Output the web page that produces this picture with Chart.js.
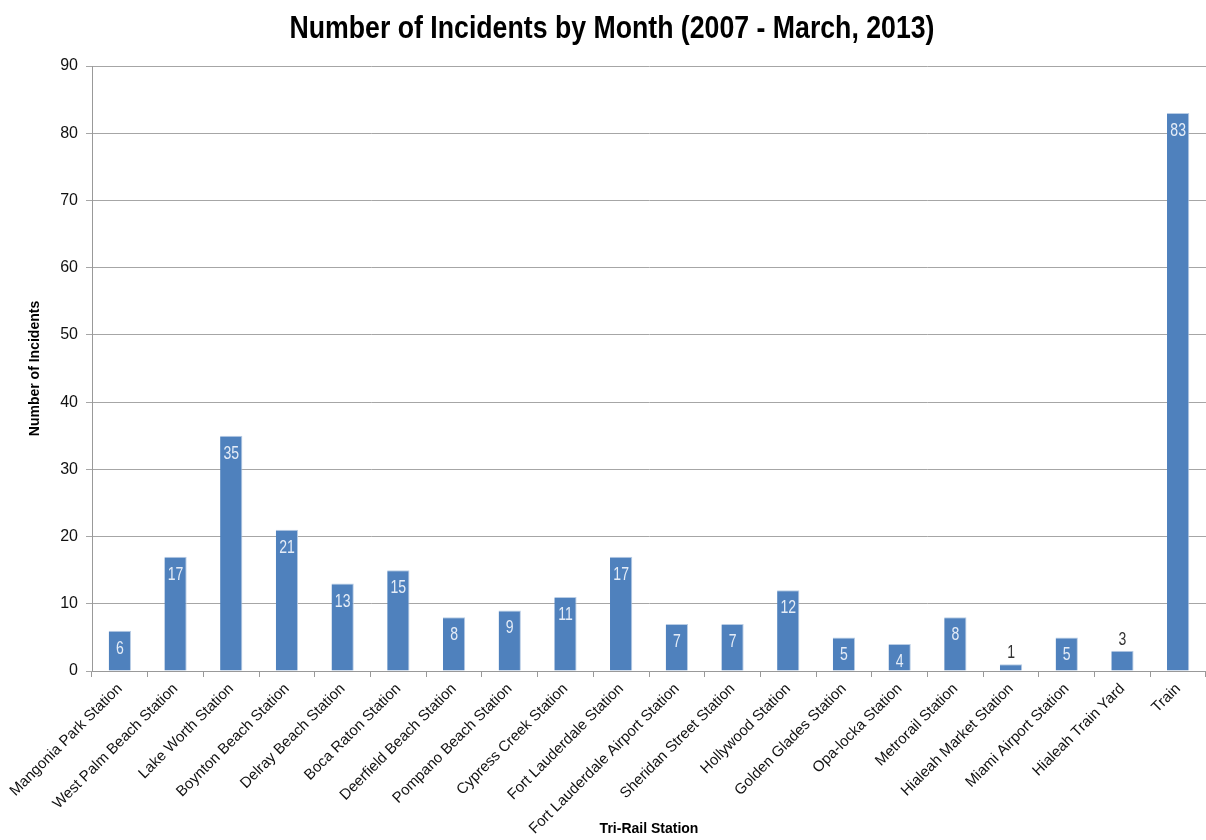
<!DOCTYPE html>
<html>
<head>
<meta charset="utf-8">
<script src="https://cdn.jsdelivr.net/npm/chart.js@4.4.0/dist/chart.umd.min.js"></script>
<style>
  html, body { margin: 0; padding: 0; background: #fff; }
  #wrap { width: 1206px; height: 840px; }
</style>
</head>
<body>
<div id="wrap"><canvas id="chart"></canvas></div>
<script>
const stations = [
    'Mangonia Park Station', 'West Palm Beach Station', 'Lake Worth Station',
    'Boynton Beach Station', 'Delray Beach Station', 'Boca Raton Station',
    'Deerfield Beach Station', 'Pompano Beach Station', 'Cypress Creek Station',
    'Fort Lauderdale Station', 'Fort Lauderdale Airport Station', 'Sheridan Street Station',
    'Hollywood Station', 'Golden Glades Station', 'Opa-locka Station',
    'Metrorail Station', 'Hialeah Market Station', 'Miami Airport Station',
    'Hialeah Train Yard', 'Train'
];
const incidents = [6, 17, 35, 21, 13, 15, 8, 9, 11, 17, 7, 7, 12, 5, 4, 8, 1, 5, 3, 83];
const yTicks = [0, 10, 20, 30, 40, 50, 60, 70, 80, 90];
const chartTitle = 'Number of Incidents by Month (2007 - March, 2013)';

const sans = "'Liberation Sans', Arial, sans-serif";

// no narrow face installed, so squeeze Liberation Sans horizontally
function narrowText(ctx, text, x, y, sx) {
    ctx.save();
    ctx.translate(x, y);
    ctx.scale(sx, 1);
    ctx.fillText(text, 0, 0);
    ctx.restore();
}

// chart title drawn by hand so it can be condensed
const narrowTitle = {
    id: 'narrowTitle',
    afterDraw(chart) {
        const ctx = chart.ctx;
        ctx.save();
        ctx.font = 'bold 32px ' + sans;
        ctx.fillStyle = '#000';
        ctx.textAlign = 'center';
        ctx.textBaseline = 'middle';
        const w = ctx.measureText(chartTitle).width;
        narrowText(ctx, chartTitle, 612, 29, 645 / w);
        ctx.restore();
    }
};

// value labels: inside the bar top, or above it when the bar is too short
const barLabels = {
    id: 'barLabels',
    afterDatasetsDraw(chart) {
        const ctx = chart.ctx;
        const meta = chart.getDatasetMeta(0);
        ctx.save();
        ctx.font = '18px ' + sans;
        ctx.textAlign = 'center';
        ctx.textBaseline = 'middle';
        meta.data.forEach((bar, i) => {
            const h = bar.base - bar.y;
            if (h > 26) {
                ctx.fillStyle = '#e4ecf7';
                narrowText(ctx, String(incidents[i]), bar.x, bar.y + 18, 0.78);
            } else {
                ctx.fillStyle = '#333';
                narrowText(ctx, String(incidents[i]), bar.x, bar.y - 11, 0.78);
            }
        });
        ctx.restore();
    }
};

const ctx = document.getElementById('chart').getContext('2d');
const chart = new Chart(ctx, {
    type: 'bar',
    data: {
        labels: stations,
        datasets: [{
            data: incidents,
            backgroundColor: '#4f81bd',
            borderColor: '#b9cde5',
            borderWidth: { top: 1, left: 0, right: 1, bottom: 0 },
            barPercentage: 0.4,
            categoryPercentage: 1
        }]
    },
    options: {
        responsive: true,
        maintainAspectRatio: false,
        animation: false,
        layout: { padding: { top: 66, left: 0, right: 0, bottom: 0 } },
        plugins: {
            legend: { display: false },
            tooltip: { enabled: false },
            title: { display: false }
        },
        scales: {
            x: {
                grid: {
                    offset: true,
                    drawOnChartArea: false,
                    tickLength: 6,
                    color: '#999'
                },
                border: { color: '#999' },
                ticks: {
                    color: '#111',
                    font: { family: sans, size: 15 },
                    minRotation: 45,
                    maxRotation: 45,
                    autoSkip: false,
                    padding: 3
                },
                title: {
                    display: true,
                    text: 'Tri-Rail Station',
                    color: '#000',
                    font: { family: sans, size: 14, weight: 'bold' },
                    padding: { top: 0, bottom: 2 }
                },
                afterFit(scale) { scale.height = 169; }
            },
            y: {
                min: 0,
                max: 90,
                afterBuildTicks(scale) { scale.ticks = yTicks.map(v => ({ value: v })); },
                grid: { color: '#a6a6a6', tickLength: 6 },
                border: { color: '#999' },
                ticks: {
                    color: '#111',
                    font: { family: sans, size: 16 },
                    padding: 8
                },
                title: {
                    display: true,
                    text: 'Number of Incidents',
                    color: '#000',
                    font: { family: sans, size: 14, weight: 'bold' },
                    padding: { top: 27, bottom: 0 }
                },
                afterFit(scale) { scale.width = 92; }
            }
        }
    },
    plugins: [barLabels, narrowTitle]
});
</script>
</body>
</html>
